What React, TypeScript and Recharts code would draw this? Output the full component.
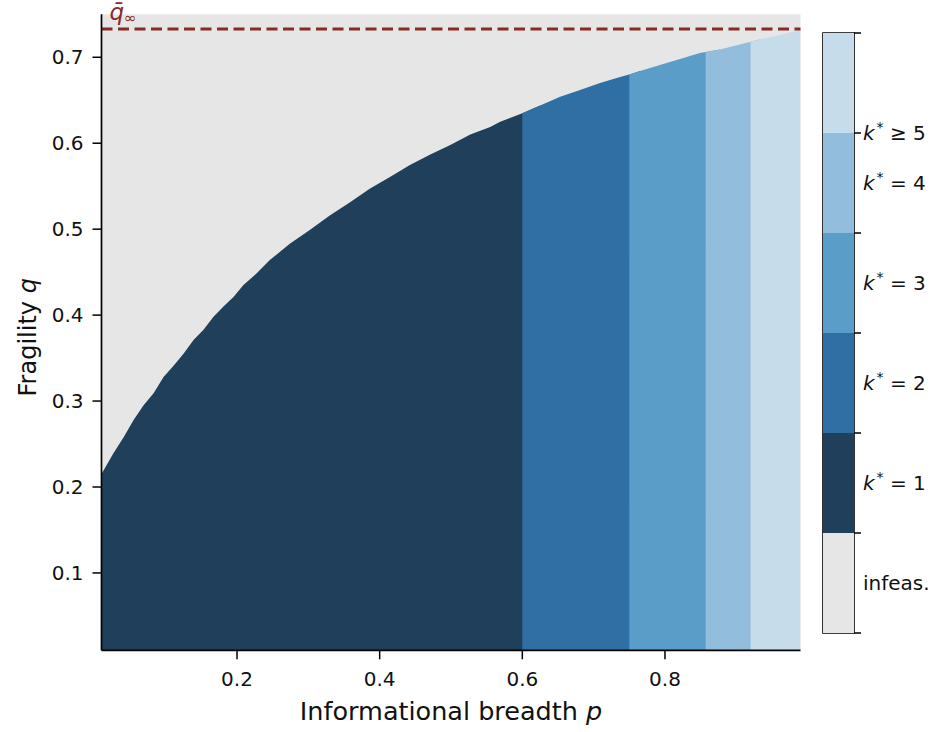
import React from 'react'
import {
  ComposedChart,
  Area,
  XAxis,
  YAxis,
  CartesianGrid,
  ReferenceLine,
  ReferenceArea,
  Label,
  BarChart,
  Bar,
} from 'recharts'

const FONT = '"DejaVu Sans", sans-serif'

// upper edge of the feasible region (largest q for each p)
const pValues = [
  0.01, 0.0265, 0.041, 0.055, 0.069, 0.083, 0.097, 0.111, 0.125, 0.139, 0.153, 0.167,
  0.181, 0.195, 0.209, 0.228, 0.246, 0.274, 0.302, 0.33, 0.358, 0.386, 0.415, 0.443,
  0.471, 0.499, 0.527, 0.555, 0.569, 0.6, 0.625, 0.653, 0.681, 0.709, 0.737, 0.75,
  0.765, 0.793, 0.821, 0.849, 0.857, 0.877, 0.905, 0.92, 0.933, 0.961, 0.99,
]
const qMaxValues = [
  0.215, 0.239, 0.258, 0.278, 0.295, 0.309, 0.328, 0.341, 0.355, 0.371, 0.383, 0.398,
  0.41, 0.421, 0.435, 0.449, 0.464, 0.483, 0.499, 0.516, 0.531, 0.547, 0.561, 0.575,
  0.587, 0.598, 0.61, 0.619, 0.625, 0.635, 0.644, 0.654, 0.662, 0.67, 0.677, 0.68,
  0.684, 0.691, 0.698, 0.705, 0.706, 0.709, 0.715, 0.718, 0.721, 0.726, 0.732,
]

// k* regions along p
const bandKeys = ['k1', 'k2', 'k3', 'k4', 'k5']
const bandEdges = [0.01, 0.6, 0.75, 0.857, 0.92, 0.99]
const bandColors = ['#1f3f5b', '#2f6fa3', '#5a9dc8', '#92bddd', '#c7dcea']
const infeasColor = '#e6e6e6'

const qBarInf = 0.733
const xTicks = [0.2, 0.4, 0.6, 0.8]
const yTicks = [0.1, 0.2, 0.3, 0.4, 0.5, 0.6, 0.7]

// colorbar
const cbKeys = ['infeas', 'k1', 'k2', 'k3', 'k4', 'k5']
const cbColors = [infeasColor, ...bandColors]
const cbTickMarks = [0, 1, 2, 3, 4, 5, 6]
const cbLabelPos = [0.5, 1.5, 2.5, 3.5, 4.5, 5]
const cbLabels = ['infeas.', '= 1', '= 2', '= 3', '= 4', '\u2265 5']

// each band also keeps the first point past its right edge, so the next band
// (drawn later, on top) overlaps it and no seam shows
const inBand = (p: number, j: number) => p >= bandEdges[j] - 1e-9 && p <= bandEdges[j + 1] + 1e-9

const data = pValues.map((p, i) => {
  const row: Record<string, number | null> = { p }
  bandKeys.forEach((k, j) => {
    const inside = inBand(p, j) || (i > 0 && inBand(pValues[i - 1], j))
    row[k] = inside ? qMaxValues[i] : null
  })
  return row
})

const cbRow = [Object.fromEntries(cbKeys.map((k) => [k, 1]))]
const cbTicks = [...new Set([...cbTickMarks, ...cbLabelPos])].sort((a, b) => a - b)

function QBarLabel(props: any) {
  const vb = props.viewBox || { x: 101.5, y: 29 }
  return (
    <text x={vb.x + 8} y={vb.y - 9} fill="#8b2a25" fontFamily={FONT} fontSize={23}>
      <tspan fontStyle="italic">{'q\u0304'}</tspan>
      <tspan fontSize={15} dy={3}>{'\u221e'}</tspan>
    </text>
  )
}

function CbTick(props: any) {
  const { x, y, payload } = props
  const v = payload.value
  const idx = cbLabelPos.indexOf(v)
  return (
    <g>
      {cbTickMarks.includes(v) && (
        <line x1={x} x2={x + 7} y1={y} y2={y} stroke="#000" strokeWidth={1.5} />
      )}
      {idx === 0 && (
        <text x={x + 9} y={y} dy="0.35em" fontFamily={FONT} fontSize={20} fill="#111">
          {cbLabels[idx]}
        </text>
      )}
      {idx > 0 && (
        <text x={x + 9} y={y} dy="0.35em" fontFamily={FONT} fontSize={20} fill="#111">
          <tspan fontStyle="italic">k</tspan>
          <tspan fontSize={14} dx={2} dy={-8}>*</tspan>
          <tspan dy={8}>{' ' + cbLabels[idx]}</tspan>
        </text>
      )}
    </g>
  )
}

export default function App() {
  return (
    <div style={{ position: 'absolute', left: 0, top: 0, width: 933, height: 732, background: '#fff' }}>
      <div style={{ position: 'absolute', left: 0, top: 0 }}>
        <ComposedChart
          width={933}
          height={732}
          data={data}
          margin={{ top: 14.3, right: 132.5, bottom: 11.7, left: 11.5 }}
        >
          <CartesianGrid horizontal={false} vertical={false} fill={infeasColor} stroke="none" />
          <XAxis
            dataKey="p"
            type="number"
            domain={[0.01, 0.99]}
            ticks={xTicks}
            interval={0}
            allowDataOverflow
            height={70}
            tickFormatter={(v: number) => v.toFixed(1)}
            tick={{ fontSize: 20, fontFamily: FONT, fill: '#111' }}
            tickSize={9}
            tickMargin={12}
            axisLine={{ stroke: '#000', strokeWidth: 1.7 }}
            tickLine={{ stroke: '#000', strokeWidth: 1.5 }}
          >
            <Label
              content={(props: any) => {
                const vb = props.viewBox || { x: 101.5, y: 650.3, width: 699 }
                return (
                  <text
                    x={vb.x + vb.width / 2}
                    y={vb.y + 70}
                    textAnchor="middle"
                    fontFamily={FONT}
                    fontSize={25.5}
                    fill="#111"
                  >
                    Informational breadth <tspan fontStyle="italic">p</tspan>
                  </text>
                )
              }}
            />
          </XAxis>
          <YAxis
            type="number"
            domain={[0.01, 0.75]}
            ticks={yTicks}
            interval={0}
            allowDataOverflow
            width={90}
            tickFormatter={(v: number) => v.toFixed(1)}
            tick={{ fontSize: 20, fontFamily: FONT, fill: '#111' }}
            tickSize={9}
            tickMargin={9}
            axisLine={{ stroke: '#000', strokeWidth: 1.7 }}
            tickLine={{ stroke: '#000', strokeWidth: 1.5 }}
          >
            <Label
              content={(props: any) => {
                const vb = props.viewBox || { x: 11.5, y: 14.3, height: 636 }
                const cx = 36
                const cy = vb.y + vb.height / 2 + 5
                return (
                  <text
                    x={cx}
                    y={cy}
                    transform={`rotate(-90 ${cx} ${cy})`}
                    textAnchor="middle"
                    fontFamily={FONT}
                    fontSize={24}
                    fill="#111"
                  >
                    Fragility <tspan fontStyle="italic">q</tspan>
                  </text>
                )
              }}
            />
          </YAxis>
          {bandKeys.map((k, j) => (
            <Area
              key={k}
              dataKey={k}
              type="linear"
              stroke="none"
              fill={bandColors[j]}
              fillOpacity={1}
              connectNulls={false}
              dot={false}
              activeDot={false}
              isAnimationActive={false}
            />
          ))}
          <ReferenceLine
            y={qBarInf}
            stroke="#8b2a25"
            strokeWidth={3}
            strokeDasharray="11 5.5"
            label={<QBarLabel />}
          />
        </ComposedChart>
      </div>
      <div style={{ position: 'absolute', left: 815, top: 0 }}>
        <BarChart
          width={118}
          height={732}
          data={cbRow}
          margin={{ top: 33, right: 0, bottom: 99, left: 8 }}
          barCategoryGap={0}
        >
          <XAxis hide />
          <YAxis
            orientation="right"
            type="number"
            domain={[0, 6]}
            ticks={cbTicks}
            interval={0}
            width={79}
            axisLine={false}
            tickLine={false}
            tickSize={0}
            tickMargin={0}
            tick={<CbTick />}
          />
          {cbKeys.map((k, i) => (
            <Bar key={k} dataKey={k} stackId="cb" fill={cbColors[i]} isAnimationActive={false} />
          ))}
          <ReferenceArea y1={0} y2={6} fill="none" stroke="#000" strokeWidth={1.6} ifOverflow="visible" />
        </BarChart>
      </div>
    </div>
  )
}
